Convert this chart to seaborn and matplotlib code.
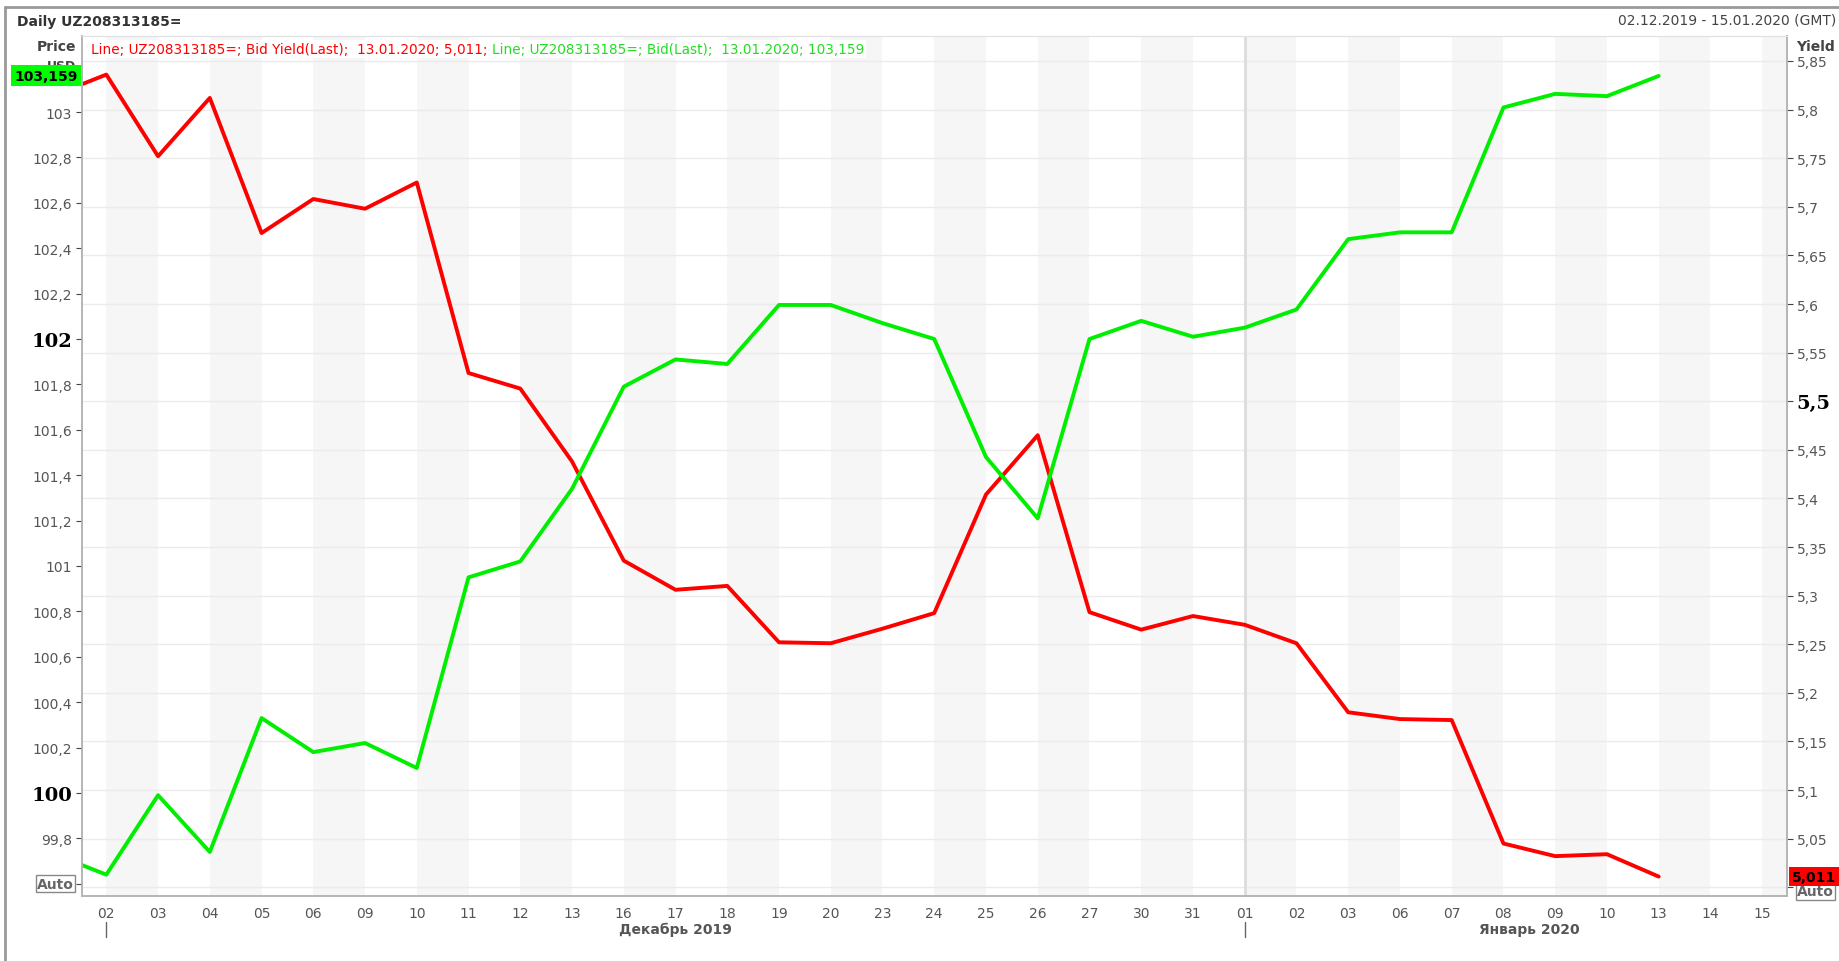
import numpy as np
import pandas as pd
import matplotlib
matplotlib.use("Agg")
import matplotlib.pyplot as plt
import matplotlib.transforms as mtransforms
import seaborn as sns

# sessions shown on the axis (02.12.2019 - 15.01.2020)
day_labels = ["02", "03", "04", "05", "06", "09", "10", "11", "12", "13",
              "16", "17", "18", "19", "20", "23", "24", "25", "26", "27",
              "30", "31", "01", "02", "03", "06", "07", "08", "09", "10",
              "13", "14", "15"]
month_names = ["Декабрь 2019", "Январь 2020"]
month_start = [0, 22]
month_end = [21, 32]

# first value is 29.11.2019, the session before the axis begins
bid_price = [99.73, 99.64, 99.99, 99.74, 100.33, 100.18, 100.22, 100.11,
             100.95, 101.02, 101.34, 101.79, 101.91, 101.89, 102.15, 102.15,
             102.07, 102.00, 101.48, 101.21, 102.00, 102.08, 102.01, 102.05,
             102.13, 102.44, 102.47, 102.47, 103.02, 103.08, 103.07, 103.159]
bid_yield = [5.815, 5.836, 5.752, 5.812, 5.673, 5.708, 5.698, 5.725,
             5.529, 5.513, 5.438, 5.336, 5.306, 5.310, 5.252, 5.251,
             5.266, 5.282, 5.404, 5.465, 5.283, 5.265, 5.279, 5.270,
             5.251, 5.180, 5.173, 5.172, 5.045, 5.032, 5.034, 5.011]

price_ticks = [99.6, 99.8, 100.0, 100.2, 100.4, 100.6, 100.8, 101.0, 101.2,
               101.4, 101.6, 101.8, 102.0, 102.2, 102.4, 102.6, 102.8, 103.0]
yield_ticks = [5.0, 5.05, 5.1, 5.15, 5.2, 5.25, 5.3, 5.35, 5.4, 5.45, 5.5,
               5.55, 5.6, 5.65, 5.7, 5.75, 5.8, 5.85]
price_bold = [100.0, 102.0]
yield_bold = [5.5]

RED = "#ff0000"
GREEN = "#00ee00"
TXT = "#555555"
W, H = 1839, 962


def fmt(v):
    s = f"{v:.3f}".rstrip("0").rstrip(".")
    return s.replace(".", ",")


sns.set_style("white")
plt.rcParams["font.family"] = ["DejaVu Sans"]

df = pd.DataFrame({
    "pos": np.arange(len(bid_price)) - 1,
    "price": bid_price,
    "yield": bid_yield,
})

fig = plt.figure(figsize=(W / 100, H / 100), dpi=100)
fig.patch.set_facecolor("white")
ax = fig.add_axes([82 / W, 1 - 897 / H, (1787 - 82) / W, (897 - 37) / H])
ax2 = ax.twinx()
ax.set_zorder(3)
ax.patch.set_visible(False)
ax2.patch.set_visible(False)

# background bands and grid (on the yield axis, behind)
for i in range(0, len(day_labels), 2):
    ax2.axvspan(i, i + 1, color="#f6f6f6", lw=0, zorder=0)
for t in yield_ticks:
    ax2.axhline(t, color="#ebebeb", lw=1, zorder=0.5)
ax2.axvline(month_start[1], color="#dcdcdc", lw=2, zorder=0.6)

sns.lineplot(data=df, x="pos", y="yield", ax=ax2, color=RED, linewidth=2.8)
sns.lineplot(data=df, x="pos", y="price", ax=ax, color=GREEN, linewidth=2.8)

ax.set_xlim(-0.47, len(day_labels) - 0.52)
ax.set_ylim(99.546, 103.335)
ax2.set_ylim(4.991, 5.8757)

ax.set_xlabel("")
ax.set_ylabel("")
ax2.set_ylabel("")

ax.set_xticks(range(len(day_labels)))
ax.set_xticklabels(day_labels)
ax.tick_params(axis="x", length=4, color="#888888", pad=3, labelsize=10,
               labelcolor=TXT)

ax.set_yticks(price_ticks)
ax.set_yticklabels(["" if t == price_ticks[0] else fmt(t) for t in price_ticks])
ax.tick_params(axis="y", length=4.5, color="#444444", pad=2.5, labelsize=10,
               labelcolor=TXT, left=True)
for lab, t in zip(ax.get_yticklabels(), price_ticks):
    if t in price_bold:
        lab.set_fontfamily("DejaVu Serif")
        lab.set_fontweight("bold")
        lab.set_fontsize(14)
        lab.set_color("black")

ax2.set_yticks(yield_ticks)
ax2.set_yticklabels(["" if t == yield_ticks[0] else fmt(t) for t in yield_ticks])
ax2.tick_params(axis="y", length=4.5, color="#444444", pad=2.5, labelsize=10,
                labelcolor=TXT, right=True)
for lab, t in zip(ax2.get_yticklabels(), yield_ticks):
    if t in yield_bold:
        lab.set_fontfamily("DejaVu Serif")
        lab.set_fontweight("bold")
        lab.set_fontsize(14)
        lab.set_color("black")

for a in (ax, ax2):
    for side in ("left", "right", "bottom"):
        a.spines[side].set_color("#b5b5b5")
        a.spines[side].set_linewidth(1.2)
    a.spines["top"].set_color("#e2e2e2")

# month captions and separators under the axis
trans = mtransforms.blended_transform_factory(ax.transData, ax.transAxes)
for name, s, e in zip(month_names, month_start, month_end):
    ax.text((s + e) / 2 + 0.5, -0.038, name, transform=trans, ha="center",
            va="center", fontsize=10, fontweight="bold", color=TXT)
    ax.plot([s, s], [-0.03, -0.048], transform=trans, color="#666666",
            lw=1, clip_on=False)

# last value boxes
ax.annotate(fmt(bid_price[-1]), xy=(0, bid_price[-1]),
            xycoords=("axes fraction", "data"), xytext=(-4, 0),
            textcoords="offset pixels", ha="right", va="center", fontsize=10,
            fontweight="bold", color="black", zorder=10,
            bbox=dict(boxstyle="square,pad=0.25", fc="#00ff00", ec="none"))
ax.annotate("Auto", xy=(0, price_ticks[0]), xycoords=("axes fraction", "data"),
            xytext=(-8, 0), textcoords="offset pixels", ha="right",
            va="center", fontsize=10, fontweight="bold", color="#666666",
            bbox=dict(boxstyle="square,pad=0.1", fc="white", ec="#888888"))
ax2.annotate("Auto", xy=(1, yield_ticks[0]), xycoords=("axes fraction", "data"),
             xytext=(10, -4), textcoords="offset pixels", ha="left",
             va="center", fontsize=10, fontweight="bold", color="#666666",
             bbox=dict(boxstyle="square,pad=0.1", fc="white", ec="#888888"))
ax2.annotate(fmt(bid_yield[-1]), xy=(1, bid_yield[-1]),
             xycoords=("axes fraction", "data"), xytext=(5, 0),
             textcoords="offset pixels", ha="left", va="center", fontsize=10,
             fontweight="bold", color="black", zorder=10,
             bbox=dict(boxstyle="square,pad=0.2", fc="#ff0000", ec="none"))

# header texts
fig.text(17 / W, 1 - 22 / H, "Daily UZ208313185=", fontsize=10,
         fontweight="bold", color="#333333", va="center")
fig.text(1836 / W, 1 - 21 / H, "02.12.2019 - 15.01.2020 (GMT)", fontsize=10,
         color="#444444", va="center", ha="right")
fig.text(76 / W, 1 - 47 / H, "Price", fontsize=10, fontweight="bold",
         color="#444444", va="center", ha="right")
fig.text(76 / W, 1 - 67 / H, "USD", fontsize=9, fontweight="bold",
         color="#444444", va="center", ha="right", zorder=0)
fig.text(1796 / W, 1 - 47 / H, "Yield", fontsize=10, fontweight="bold",
         color="#444444", va="center", ha="left")

t1 = fig.text(91 / W, 1 - 50 / H,
              f"Line; UZ208313185=; Bid Yield(Last);  13.01.2020; {fmt(bid_yield[-1])}; ",
              fontsize=9.8, color=RED, va="center", ha="left", zorder=20,
              bbox=dict(boxstyle="square,pad=0.15", fc="white", ec="none"))
fig.canvas.draw()
bb = t1.get_window_extent()
fig.text(bb.x1 / W, 1 - 50 / H,
         f"Line; UZ208313185=; Bid(Last);  13.01.2020; {fmt(bid_price[-1])}",
         fontsize=9.8, color="#22dd22", va="center", ha="left", zorder=20,
         bbox=dict(boxstyle="square,pad=0.15", fc="white", ec="none"))

# outer frame
fig.add_artist(plt.Line2D([5 / W, 1], [1 - 8 / H, 1 - 8 / H],
                          transform=fig.transFigure, color="#999999", lw=2))
fig.add_artist(plt.Line2D([5 / W, 5 / W], [0, 1 - 8 / H],
                          transform=fig.transFigure, color="#999999", lw=2))

fig.savefig("out.png", dpi=100)
plt.close(fig)
